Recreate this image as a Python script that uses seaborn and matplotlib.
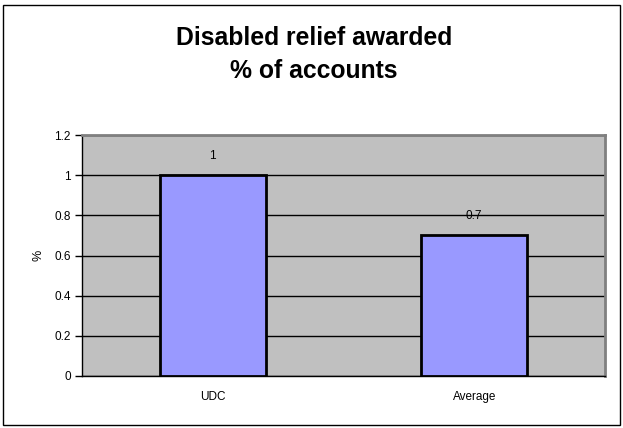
import numpy as np
import pandas as pd
import seaborn as sns
import matplotlib.pyplot as plt
from matplotlib.patches import Rectangle

categories = ['UDC', 'Average']
values = [1.0, 0.7]
value_labels = ['1', '0.7']
y_ticks = [0, 0.2, 0.4, 0.6, 0.8, 1.0, 1.2]
y_tick_labels = ['0', '0.2', '0.4', '0.6', '0.8', '1', '1.2']

sns.set_style('white')
plt.rcParams['font.family'] = ['Liberation Sans', 'DejaVu Sans']
plt.rcParams['text.color'] = 'black'
plt.rcParams['axes.labelcolor'] = 'black'
plt.rcParams['xtick.color'] = 'black'
plt.rcParams['ytick.color'] = 'black'

df = pd.DataFrame({'cat': categories, 'val': values})

fig = plt.figure(figsize=(6.23, 4.28), dpi=100)
ax = fig.add_axes([82/623, 1-376/428, (605-82)/623, (376-135)/428])
ax.set_facecolor('#C0C0C0')

sns.barplot(data=df, x='cat', y='val', color='#9999FF', saturation=1,
            edgecolor='black', linewidth=2, width=0.405, ax=ax, zorder=3)

ax.set_ylim(0, 1.2)
ax.set_xlim(-0.5, 1.5)
ax.set_yticks(y_ticks)
ax.set_yticklabels(y_tick_labels, fontsize=8.5)
ax.yaxis.grid(True, color='black', linewidth=1)
ax.set_axisbelow(True)

ax.set_xticks([0, 1])
ax.set_xticklabels(categories, fontsize=8.5)
ax.set_xticks([0.5, 1.5], minor=True)
ax.tick_params(axis='x', which='major', length=0, pad=10.5)
ax.tick_params(axis='x', which='minor', length=5, width=1, color='black', direction='out')
ax.tick_params(axis='y', length=5, width=1, color='black', direction='out', pad=3, left=True)

ax.set_xlabel('')
ax.set_ylabel('%', fontsize=9, labelpad=7)

for side in ['top', 'right']:
    ax.spines[side].set_color('#808080')
    ax.spines[side].set_linewidth(2)
for side in ['left', 'bottom']:
    ax.spines[side].set_color('black')
    ax.spines[side].set_linewidth(1)

for p, lab in zip(ax.patches, value_labels):
    ax.annotate(lab, (p.get_x() + p.get_width() / 2, p.get_height()),
                xytext=(0, 9.5), textcoords='offset points',
                ha='center', va='bottom', fontsize=8.5, zorder=4)

fig.text(314/623, 1-45/428, 'Disabled relief awarded', ha='center', va='baseline',
         fontsize=17.8, fontweight='bold')
fig.text(314/623, 1-78/428, '% of accounts', ha='center', va='baseline',
         fontsize=17.8, fontweight='bold')

fig.patches.append(Rectangle((3/623, 3/428), 617/623, 420/428, transform=fig.transFigure,
                             fill=False, edgecolor='black', linewidth=1))

fig.savefig('out.png', dpi=100)
